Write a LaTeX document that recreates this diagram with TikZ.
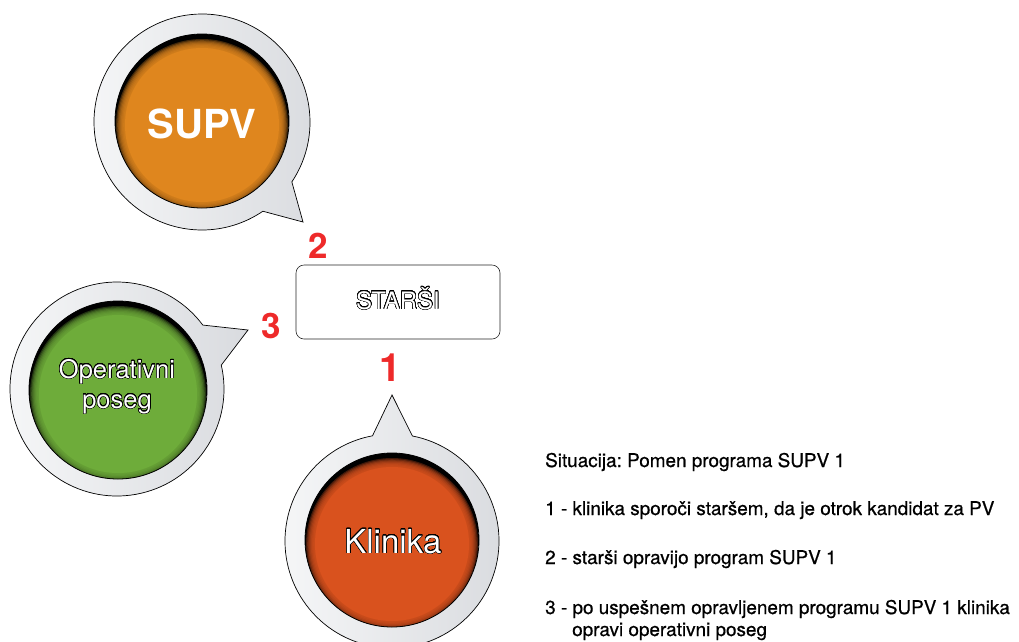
\documentclass[tikz,border=0pt]{standalone}
\usepackage{fontspec}
\setmainfont{TeX Gyre Heros}
\newfontfamily\descfont{TeX Gyre Heros}[FakeBold=0.7]
\usepackage{contour}
\contourlength{0.5pt}
\contournumber{32}
\usetikzlibrary{calc}
\frenchspacing
\definecolor{supvorange}{HTML}{DF861E}
\definecolor{opgreen}{HTML}{6EAC3A}
\definecolor{klinred}{HTML}{D9521E}
\definecolor{numred}{HTML}{EE2A2A}
\definecolor{ringlight}{HTML}{F6F7F8}
\definecolor{ringdark}{HTML}{D9DBDF}
\newcommand\innerdisc[4]{%
  \begin{scope}
    \clip (#1,#2) circle[radius=#3];
    \fill[black] (#1,#2) circle[radius=#3];
    \foreach \k in {0,...,7}{\fill[#4,opacity=0.3] (#1,#2+4) circle[radius=#3-1-\k*1.2];}
    \fill[#4] (#1,#2+4) circle[radius=#3-10];
  \end{scope}
  \draw[black,line width=0.8] (#1,#2) circle[radius=#3];
}
\tikzset{
  bubble/.style={left color=ringlight,right color=ringdark,draw=black,line width=0.7},
  numlabel/.style={text=numred,font=\fontsize{35}{40}\selectfont\bfseries,anchor=base,inner sep=0},
  desc/.style={anchor=base west,inner sep=0,font=\descfont\fontsize{18.9}{21}\selectfont},
  outlined/.style={text=white,anchor=base,inner sep=0},
  boxstyle/.style={draw=black!85,fill=white,rounded corners=8,line width=0.6,minimum width=204,minimum height=74,inner sep=0}
}
\begin{document}
\begin{tikzpicture}[x=1pt,y=-1pt]
\useasboundingbox (0,0) rectangle (1019,641);
\clip (0,0) rectangle (1019,641);
% SUPV bubble
\coordinate (supvC) at (202,122);
\coordinate (supvTip) at (303,222);
\path[bubble] (supvTip) -- ($(supvC)+(33.7:108)$) arc[start angle=33.7,end angle=-304.3,x radius=108,y radius=108] -- cycle;
\innerdisc{202}{121}{87}{supvorange}
\node[text=white,anchor=base,inner sep=0,font=\fontsize{40}{44}\selectfont\bfseries] (supv) at (202,138) {SUPV};
% Operativni poseg bubble
\coordinate (opC) at (117,389);
\coordinate (opTip) at (248,330);
\path[bubble] (opTip) -- ($(opC)+(-12.9:107)$) arc[start angle=-12.9,end angle=323.3,x radius=107,y radius=107] -- cycle;
\innerdisc{118}{390}{89}{opgreen}
\node[outlined,font=\fontsize{25.5}{30}\selectfont] (op1) at (117,378) {\contour{black}{Operativni}};
\node[outlined,font=\fontsize{25.5}{30}\selectfont] (op2) at (117,408) {\contour{black}{poseg}};
% Klinika bubble
\coordinate (klC) at (392,541);
\coordinate (klTip) at (392,395);
\path[bubble] (klTip) -- ($(klC)+(-79:107)$) arc[start angle=-79,end angle=259.5,x radius=107,y radius=107] -- cycle;
\innerdisc{392}{540}{87}{klinred}
\node[outlined,font=\fontsize{33}{38}\selectfont] (klinika) at (393,553) {\contour{black}{Klinika}};
% STARSI box
\node[boxstyle] (starsi) at (398,302) {};
\node[outlined,font=\fontsize{24}{28}\selectfont] (starsitext) at (398,309) {\contour{black}{STARŠI}};
% numbers
\node[numlabel] (n2) at (318,258) {2};
\node[numlabel] (n3) at (271.5,338) {3};
\node[numlabel,font=\fontsize{39}{44}\selectfont\bfseries] (n1) at (390,381) {1};
% description
\node[desc] (d0) at (545,467) {Situacija: Pomen programa SUPV 1};
\node[desc] (d1) at (545,515) {1 - klinika sporoči staršem, da je otrok kandidat za PV};
\node[desc] (d2) at (545,564) {2 - starši opravijo program SUPV 1};
\node[desc] (d3) at (545,614) {3 - po uspešnem opravljenem programu SUPV 1 klinika};
\node[desc] (d4) at (572,636) {opravi operativni poseg};
\end{tikzpicture}
\end{document}
